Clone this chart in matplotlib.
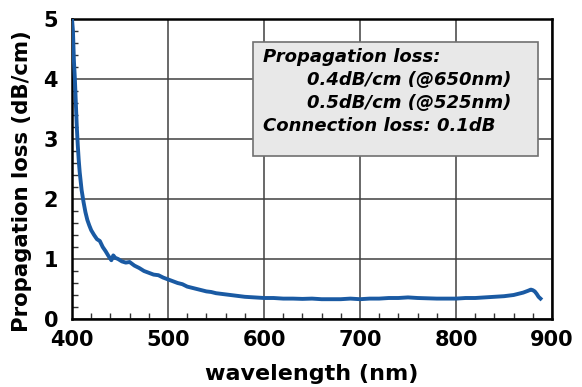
import matplotlib
matplotlib.use("Agg")
import matplotlib.pyplot as plt
from matplotlib.patches import Rectangle
from matplotlib.ticker import MultipleLocator

wavelength = [400, 401, 402, 403, 404, 405, 406, 407, 408, 409, 410, 412, 414, 416, 418,
              420, 423, 426, 429, 432, 435, 438, 441, 443, 445, 448, 452, 456, 460, 465,
              470, 475, 480, 485, 490, 495, 500, 505, 510, 515, 520, 525, 530, 535, 540,
              545, 550, 555, 560, 570, 580, 590, 600, 610, 620, 630, 640, 650, 660, 670,
              680, 690, 700, 710, 720, 730, 740, 750, 760, 770, 780, 790, 800, 810, 820,
              830, 840, 850, 860, 865, 870, 875, 878, 880, 882, 884, 886, 888]
loss = [5.0, 4.8, 4.3, 4.0, 3.6, 3.2, 2.9, 2.65, 2.45, 2.3, 2.15, 1.95, 1.78, 1.65, 1.56,
        1.48, 1.40, 1.33, 1.30, 1.20, 1.13, 1.05, 0.98, 1.06, 1.02, 1.00, 0.96, 0.94, 0.95, 0.89,
        0.85, 0.80, 0.77, 0.74, 0.73, 0.69, 0.66, 0.63, 0.60, 0.58, 0.54, 0.52, 0.50, 0.48, 0.46,
        0.45, 0.43, 0.42, 0.41, 0.39, 0.37, 0.36, 0.35, 0.35, 0.34, 0.34, 0.335, 0.34, 0.33, 0.33,
        0.33, 0.34, 0.33, 0.34, 0.34, 0.35, 0.35, 0.36, 0.35, 0.345, 0.34, 0.34, 0.34, 0.35, 0.35,
        0.36, 0.37, 0.38, 0.40, 0.42, 0.44, 0.47, 0.49, 0.48, 0.46, 0.42, 0.37, 0.34]

x_ticks = [400, 500, 600, 700, 800, 900]
y_ticks = [0, 1, 2, 3, 4, 5]
box_lines = ["Propagation loss:", "0.4dB/cm (@650nm)", "0.5dB/cm (@525nm)",
             "Connection loss: 0.1dB"]

plt.rcParams['font.family'] = ['DejaVu Sans']

fig = plt.figure(figsize=(5.82, 3.87), dpi=100)
ax = fig.add_axes([72/582, 1-319/387, 480/582, 300/387])

ax.plot(wavelength, loss, color='#1a5aa3', lw=2.8, zorder=3, solid_joinstyle='round')

ax.set_xlim(400, 900)
ax.set_ylim(0, 5)
ax.set_xticks(x_ticks)
ax.set_yticks(y_ticks)
ax.xaxis.set_minor_locator(MultipleLocator(20))
ax.yaxis.set_minor_locator(MultipleLocator(0.2))
ax.tick_params(which='major', length=0, pad=8, labelsize=15)
ax.tick_params(axis='y', which='major', pad=10)
ax.tick_params(which='minor', direction='in', length=4, width=1, color='#333333',
               top=False, right=False)
for lab in ax.get_xticklabels() + ax.get_yticklabels():
    lab.set_fontweight('bold')
ax.grid(True, which='major', color='#404040', lw=1.1)
for s in ax.spines.values():
    s.set_linewidth(1.8)
    s.set_color('black')

ax.set_xlabel("wavelength (nm)", fontsize=16, fontweight='bold')
ax.xaxis.set_label_coords(0.5, -0.15)
ax.set_ylabel("Propagation loss (dB/cm)", fontsize=15.3, fontweight='bold')
ax.yaxis.set_label_coords(-0.083, 0.458)

ax.add_patch(Rectangle((0.377, 0.543), 0.594, 0.38, transform=ax.transAxes,
                       facecolor='#e8e8e8', edgecolor='#707070', lw=1.2, zorder=4))
tx = [0.398, 0.49, 0.49, 0.398]
ty = [0.873, 0.797, 0.72, 0.643]
for s, x, y in zip(box_lines, tx, ty):
    ax.text(x, y, s, transform=ax.transAxes, fontsize=13, fontstyle='italic',
            fontweight='bold', va='center', ha='left', zorder=5)

fig.savefig("out.png", dpi=100)
